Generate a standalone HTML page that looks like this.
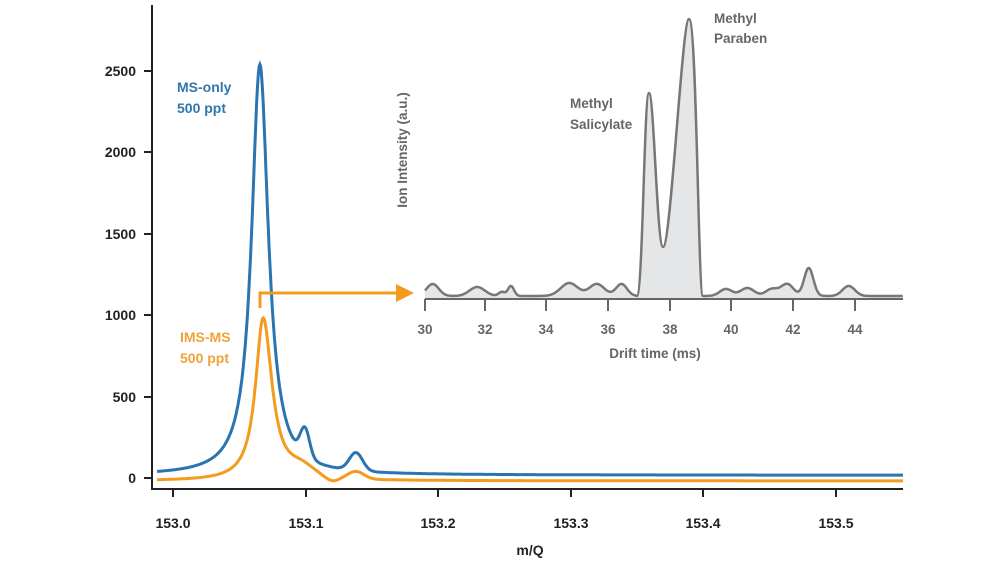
<!DOCTYPE html>
<html><head><meta charset="utf-8"><style>
html,body{margin:0;padding:0;background:#fff;}
svg text{font-family:"Liberation Sans",sans-serif;font-weight:bold;}
</style></head><body>
<svg id="s" width="1000" height="562" viewBox="0 0 1000 562" xmlns="http://www.w3.org/2000/svg">
<g stroke="#222" stroke-width="2" fill="none">
<line x1="152" y1="5" x2="152" y2="490"/>
<line x1="151" y1="489" x2="903" y2="489"/>
<line x1="144" y1="478" x2="152" y2="478"/>
<line x1="144" y1="397" x2="152" y2="397"/>
<line x1="144" y1="315" x2="152" y2="315"/>
<line x1="144" y1="234" x2="152" y2="234"/>
<line x1="144" y1="152" x2="152" y2="152"/>
<line x1="144" y1="71" x2="152" y2="71"/>
<line x1="173" y1="489" x2="173" y2="497"/>
<line x1="306" y1="489" x2="306" y2="497"/>
<line x1="438" y1="489" x2="438" y2="497"/>
<line x1="571" y1="489" x2="571" y2="497"/>
<line x1="703" y1="489" x2="703" y2="497"/>
<line x1="836" y1="489" x2="836" y2="497"/>
</g>
<g font-size="14" fill="#222" text-anchor="end">
<text x="136" y="483">0</text><text x="136" y="402">500</text><text x="136" y="320">1000</text>
<text x="136" y="239">1500</text><text x="136" y="157">2000</text><text x="136" y="76">2500</text>
</g>
<g font-size="14" fill="#222" text-anchor="middle">
<text x="173" y="528">153.0</text><text x="306" y="528">153.1</text><text x="438" y="528">153.2</text>
<text x="571" y="528">153.3</text><text x="703" y="528">153.4</text><text x="836" y="528">153.5</text>
<text x="530" y="555">m/Q</text>
</g>
<g font-size="14" fill="#2f78ad"><text x="177" y="92">MS-only</text><text x="177" y="113">500 ppt</text></g>
<g font-size="14" fill="#f0a23a"><text x="180" y="342">IMS-MS</text><text x="180" y="363">500 ppt</text></g>
<path id="blue" fill="none" stroke="#2a74b0" stroke-width="3"/>
<path id="orange" fill="none" stroke="#f29b1e" stroke-width="3"/>
<path d="M260 308 V293 H398" fill="none" stroke="#f29b1e" stroke-width="3"/>
<polygon points="396,284 414,293 396,302" fill="#f29b1e"/>
<path id="ifill" fill="#e5e6e8" stroke="none"/>
<path id="iline" fill="none" stroke="#777" stroke-width="2.5"/>
<g stroke="#666" stroke-width="2">
<line x1="425" y1="299" x2="903" y2="299"/>
<line x1="425" y1="299" x2="425" y2="311"/><line x1="485" y1="299" x2="485" y2="311"/>
<line x1="546" y1="299" x2="546" y2="311"/><line x1="608" y1="299" x2="608" y2="311"/>
<line x1="670" y1="299" x2="670" y2="311"/><line x1="731" y1="299" x2="731" y2="311"/>
<line x1="793" y1="299" x2="793" y2="311"/><line x1="855" y1="299" x2="855" y2="311"/>
</g>
<g font-size="13.5" fill="#666" text-anchor="middle">
<text x="425" y="334">30</text><text x="485" y="334">32</text><text x="546" y="334">34</text>
<text x="608" y="334">36</text><text x="670" y="334">38</text><text x="731" y="334">40</text>
<text x="793" y="334">42</text><text x="855" y="334">44</text>
<text x="655" y="358">Drift time (ms)</text>
<text transform="translate(407,150) rotate(-90)">Ion Intensity (a.u.)</text>
</g>
<g font-size="13.5" fill="#666">
<text x="570" y="108">Methyl</text><text x="570" y="129">Salicylate</text>
<text x="714" y="23">Methyl</text><text x="714" y="43">Paraben</text>
</g>
</svg>
<script>
function L(x,c,w){var d=(x-c)/w;return 1/(1+d*d);}
function LA(x,c,wl,wr){return L(x,c,x<c?wl:wr);}
function G(x,c,w){var d=(x-c)/w;return Math.exp(-d*d/2);}
var X=function(m){return 173+(m-153.0)*1326;};
var Y=function(v){return 478-v*0.163;};
var b="",o="";
for(var m=152.988;m<=153.5505;m+=0.0005){
 var vb=17+2520*LA(m,153.0655,0.0075,0.0078)+170*G(m,153.0995,0.0035)+110*G(m,153.138,0.005);
 var vo=-18+1000*LA(m,153.068,0.007,0.0082)+55*G(m,153.097,0.009)+45*G(m,153.138,0.006)-25*G(m,153.12,0.005);
 b+=(b?"L":"M")+X(m).toFixed(1)+" "+Y(vb).toFixed(1);
 o+=(o?"L":"M")+X(m).toFixed(1)+" "+Y(vo).toFixed(1);
}
document.getElementById("blue").setAttribute("d",b);
document.getElementById("orange").setAttribute("d",o);
var pk=[[30.25,12,0.2],[31.7,9,0.25],[32.5,4,0.1],[32.8,10,0.1],[34.7,13,0.28],[35.6,12,0.25],[36.4,12,0.18],
[39.8,7,0.2],[40.5,8,0.22],[41.3,7,0.2],[41.8,12,0.2],[42.5,28,0.15],[43.8,10,0.2]];
var IX=function(t){return 425+(t-30)*30.7;};
function f(t){var v=0;for(var i=0;i<pk.length;i++){var p=pk[i];v+=p[1]*G(t,p[0],p[2]);}return (296-v).toFixed(1);}
var s="";
for(var t=30;t<=36.9;t+=0.02){s+=(s?"L":"M")+IX(t).toFixed(1)+" "+f(t);}
s+="L636.8 296 C643 296 644 93 649 93 C654 93 657 247 663 247 C671 247 682 19 689 19 C697 19 698 296 703 296";
for(var t=39.06;t<=45.57;t+=0.02){s+="L"+IX(t).toFixed(1)+" "+f(t);}
document.getElementById("iline").setAttribute("d",s);
document.getElementById("ifill").setAttribute("d",s+"L"+IX(45.57).toFixed(1)+" 298L425 298Z");
</script>
</body></html>
